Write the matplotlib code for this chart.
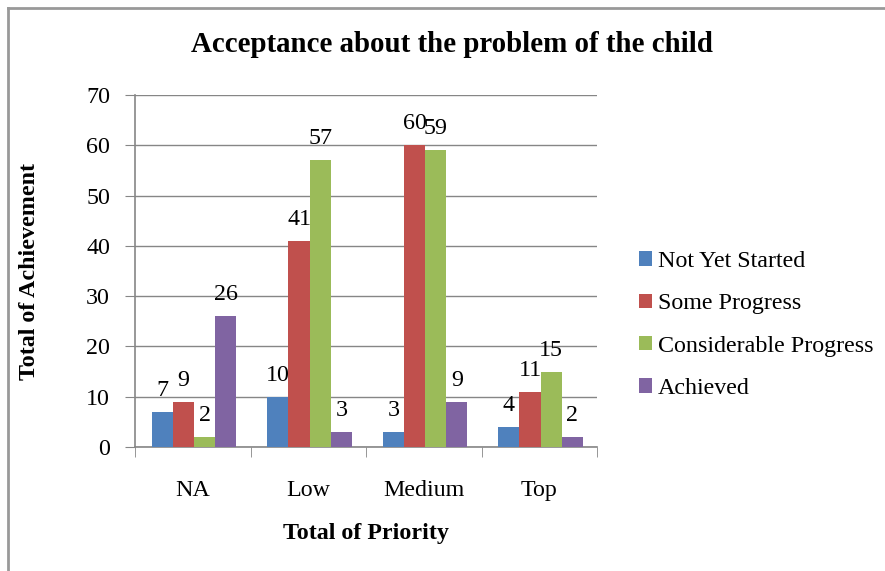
import matplotlib
matplotlib.use("Agg")
import matplotlib.pyplot as plt
from matplotlib.lines import Line2D
from matplotlib.patches import Patch
import numpy as np

plt.rcParams['font.family'] = ['Liberation Serif', 'DejaVu Serif']

categories = ["NA", "Low", "Medium", "Top"]
series_names = ["Not Yet Started", "Some Progress", "Considerable Progress", "Achieved"]
not_yet_started = [7, 10, 3, 4]
some_progress = [9, 41, 60, 11]
considerable_progress = [2, 57, 59, 15]
achieved = [26, 3, 9, 2]
colors = ["#4F81BD", "#C0504D", "#9BBB59", "#8064A2"]

W, H = 885, 571
fig = plt.figure(figsize=(W/100, H/100), dpi=100)
ax = fig.add_axes([135/W, 1-447/H, (597-135)/W, (447-95)/H])

FS = 17.3
data = [not_yet_started, some_progress, considerable_progress, achieved]
x = np.arange(len(categories))
bw = 0.183
for i, (vals, c) in enumerate(zip(data, colors)):
    pos = x + (i - 1.5) * bw + 0.012
    ax.bar(pos, vals, width=bw, color=c, zorder=3)
    for p, v in zip(pos, vals):
        ax.annotate(str(v), (p, v), xytext=(0, 15.5), textcoords='offset points',
                    ha='center', va='center', fontsize=FS)

ax.set_xlim(-0.5, 3.5)
ax.set_ylim(0, 70)
ax.set_yticks(range(0, 71, 10))
ax.set_xticks(x)
ax.set_xticklabels(categories, fontsize=FS)
ax.tick_params(axis='y', labelsize=FS, length=7, color='#868686', pad=11)
ax.tick_params(axis='x', length=0, pad=24)
ax.set_xticks(np.arange(-0.5, 4, 1), minor=True)
ax.tick_params(axis='x', which='minor', length=7, color='#868686', direction='out')
ax.grid(axis='y', color='#868686', linewidth=1, zorder=0)
for s in ['top', 'right']:
    ax.spines[s].set_visible(False)
for s in ['left', 'bottom']:
    ax.spines[s].set_color('#868686')
    ax.spines[s].set_linewidth(1.2)

fig.text(30/W, 1-271/H, "Total of Achievement", rotation=90, ha='center', va='center',
         fontsize=17.3, fontweight='bold')
fig.text(366/W, 1-533/H, "Total of Priority", ha='center', va='center',
         fontsize=17.3, fontweight='bold')
fig.text(452/W, 1-45/H, "Acceptance about the problem of the child", ha='center', va='center',
         fontsize=20.8, fontweight='bold')

handles = [Patch(facecolor=c) for c in colors]
leg = fig.legend(handles, series_names, loc='center left', bbox_to_anchor=(617/W, 1-325/H),
                 frameon=False, fontsize=FS, handlelength=0.55, handleheight=0.55,
                 handletextpad=0.25, labelspacing=0.89)

fig.add_artist(Line2D([8/W, 8/W], [0, 1-8/H], color='#999999', linewidth=2, transform=fig.transFigure))
fig.add_artist(Line2D([8/W, 1], [1-8/H, 1-8/H], color='#999999', linewidth=2, transform=fig.transFigure))

fig.savefig("out.png", dpi=100)
